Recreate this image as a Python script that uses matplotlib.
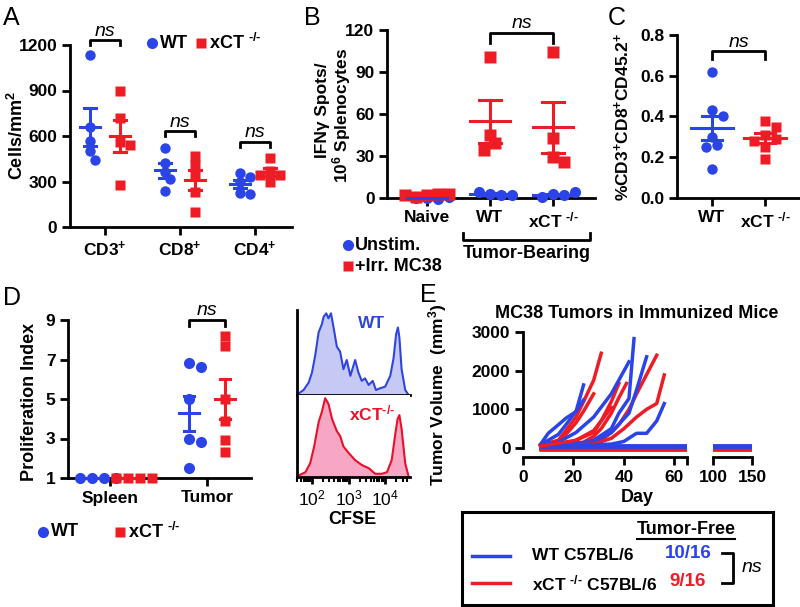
import numpy as np
import matplotlib
matplotlib.use("Agg")
import matplotlib.pyplot as plt
from matplotlib.lines import Line2D

plt.rcParams["font.family"] = ["Liberation Sans", "DejaVu Sans"]
plt.rcParams["font.weight"] = "bold"
plt.rcParams["mathtext.default"] = "regular"
plt.rcParams["axes.linewidth"] = 2.0

BLUE = "#2b44e8"
RED = "#ee1c25"
KO = "xCT $^{\u2010/\u2010}$"

# ---- A: infiltrating cells
a_groups = ["CD3$^{+}$", "CD8$^{+}$", "CD4$^{+}$"]
a_wt = [[1135, 660, 565, 500, 445], [520, 425, 365, 315, 240], [355, 330, 295, 225, 220]]
a_ko = [[900, 720, 560, 540, 280], [470, 410, 340, 230, 100], [455, 370, 345, 340, 300]]
a_ns_y = [1230, 630, 560]

# ---- B: ELISpot
b_groups = ["Naive", "WT", KO]
b_unstim = [[0, -0.5, 0, 0.5], [3, 2, 4, 2], [3, 2, 1, 4]]
b_irr = [[2, 3, 1, 3, 2], [101, 45, 39, 34], [104, 43, 29, 26]]

# ---- C
c_groups = ["WT", KO]
c_wt = [0.62, 0.43, 0.40, 0.30, 0.26, 0.25, 0.14]
c_ko = [0.38, 0.35, 0.31, 0.29, 0.28, 0.25, 0.19]

# ---- D
d_groups = ["Spleen", "Tumor"]
d_wt = [[1, 1, 1, 1], [6.8, 6.6, 5.0, 3.0, 2.8, 1.5]]
d_ko = [[1, 1, 1, 1], [8.2, 7.7, 5.0, 3.9, 2.9, 2.3]]

# ---- D: CFSE histograms (log10 CFSE, normalised count)
cfse_wt_log = [1.64, 1.77, 1.91, 2.0, 2.09, 2.18, 2.27, 2.32, 2.39, 2.45, 2.52, 2.59, 2.68,
               2.77, 2.86, 2.95, 3.05, 3.18, 3.27, 3.36, 3.45, 3.55, 3.66, 3.75, 3.86, 4.0,
               4.14, 4.23, 4.3, 4.35, 4.39, 4.45, 4.55, 4.64]
cfse_wt_h = [0.02, 0.06, 0.15, 0.27, 0.48, 0.75, 0.85, 0.94, 0.98, 0.92, 0.98, 0.81, 0.58,
             0.52, 0.31, 0.42, 0.23, 0.42, 0.27, 0.17, 0.20, 0.12, 0.17, 0.06, 0.08, 0.10,
             0.23, 0.44, 0.73, 0.81, 0.69, 0.31, 0.06, 0.0]
cfse_ko_log = [1.64, 1.82, 1.95, 2.06, 2.18, 2.27, 2.36, 2.45, 2.55, 2.68, 2.77, 2.86, 3.0,
               3.18, 3.36, 3.55, 3.73, 3.91, 4.05, 4.18, 4.27, 4.34, 4.39, 4.45, 4.55, 4.64]
cfse_ko_h = [0.02, 0.06, 0.17, 0.38, 0.68, 0.81, 0.98, 0.91, 0.72, 0.57, 0.51, 0.38, 0.30,
             0.21, 0.15, 0.11, 0.04, 0.04, 0.06, 0.21, 0.51, 0.72, 0.77, 0.60, 0.17, 0.01]

# ---- E: tumour growth
e_wt_days = [[7, 10, 14, 17, 21, 24], [7, 10, 14, 17, 21, 24], [7, 14, 21, 28, 35, 42],
             [7, 21, 28, 35, 38, 42, 44], [7, 28, 35, 42, 45, 49], [7, 35, 40, 45, 49, 53, 56]]
e_wt_vol = [[100, 380, 600, 770, 940, 1630], [80, 200, 350, 600, 950, 1240],
            [60, 150, 400, 800, 1400, 2230], [50, 100, 200, 500, 900, 1280, 2830],
            [50, 150, 400, 900, 1500, 2360], [50, 100, 170, 380, 380, 700, 1150]]
e_ko_days = [[7, 14, 17, 21, 24, 28, 31], [7, 14, 17, 21, 24, 28], [7, 17, 21, 28, 31, 35, 38],
             [7, 17, 24, 28, 31, 35, 38, 41], [7, 24, 31, 35, 38, 42, 45, 49, 53],
             [7, 28, 35, 40, 45, 49, 53, 56], [7, 21, 28, 31, 35]]
e_ko_vol = [[80, 200, 450, 800, 1200, 1750, 2450], [60, 150, 350, 650, 950, 1400],
            [50, 100, 200, 400, 700, 1200, 1670], [50, 100, 150, 300, 500, 900, 1300, 1670],
            [50, 100, 200, 400, 600, 1000, 1400, 1900, 2400],
            [50, 100, 250, 500, 800, 1000, 1150, 1890], [50, 200, 450, 700, 1050]]
e_free_days1 = [7, 66]
e_free_days2 = [100, 148]
e_wt_free, e_ko_free = 10, 9
e_wt_free_vol, e_ko_free_vol = 45, -25

fig = plt.figure(figsize=(8, 6.07), dpi=100)
W, H = 800, 607


def px_axes(x0, y0, x1, y1):
    return fig.add_axes([x0 / W, 1 - y1 / H, (x1 - x0) / W, (y1 - y0) / H])


def ftext(x, y, s, **kw):
    kw.setdefault("fontsize", 13)
    fig.text(x / W, 1 - y / H, s, **kw)


def fmark(x, y, marker, color, ms):
    fig.add_artist(Line2D([x / W], [1 - y / H], marker=marker, color=color, ms=ms, mec="none", ls="none"))


def fline(xs, ys, color="k", lw=2):
    fig.add_artist(Line2D([x / W for x in xs], [1 - y / H for y in ys], color=color, lw=lw))


def style(ax, fs=12.5):
    ax.spines[["top", "right"]].set_visible(False)
    ax.tick_params(direction="out", length=6, width=2, labelsize=fs, pad=3)


def swarm(vals, ppx, ppy, mind, step):
    placed, offs = [], []
    for v in vals:
        y = v * ppy
        for k in [0, 1, -1, 2, -2, 3, -3, 4, -4]:
            dx = k * step
            if all((dx - px) ** 2 + (y - py) ** 2 >= mind ** 2 for px, py in placed):
                break
        placed.append((dx, y))
        offs.append(dx / ppx)
    return np.array(offs)


def mean_sem(ax, x, vals, color, hw, cw, lw=2.2):
    m = np.mean(vals)
    s = np.std(vals, ddof=1) / np.sqrt(len(vals))
    kw = dict(color=color, lw=lw, zorder=5, clip_on=False)
    ax.plot([x - hw, x + hw], [m, m], **kw)
    ax.plot([x, x], [m - s, m + s], **kw)
    ax.plot([x - cw, x + cw], [m + s, m + s], **kw)
    ax.plot([x - cw, x + cw], [m - s, m - s], **kw)


def bracket(ax, x0, x1, y, drop):
    ax.plot([x0, x0, x1, x1], [y - drop, y, y, y - drop], color="k", lw=2, clip_on=False)
    ax.annotate("ns", ((x0 + x1) / 2, y), xytext=(0, 0.5), textcoords="offset points",
                ha="center", va="bottom", style="italic", weight="normal", fontsize=14,
                annotation_clip=False)


def scatter(ax, x, vals, col, mk, ms, ppx, ppy, mind, step):
    off = swarm(vals, ppx, ppy, mind, step)
    ax.plot(x + off, vals, ls="none", marker=mk, color=col, ms=ms, mec="none",
            clip_on=False, zorder=3)


# ================= A
axA = px_axes(70, 45, 292, 227)
style(axA)
axA.set_xlim(-0.467, 2.49)
axA.set_ylim(0, 1200)
axA.set_yticks(range(0, 1201, 300))
axA.set_xticks(range(3))
axA.set_xticklabels(a_groups)
ppx, ppy = 75, 182 / 1200
for i in range(3):
    scatter(axA, i - 0.2, a_wt[i], BLUE, "o", 7.5, ppx, ppy, 9, 5)
    scatter(axA, i + 0.2, a_ko[i], RED, "s", 7, ppx, ppy, 9, 5)
    mean_sem(axA, i - 0.2, a_wt[i], BLUE, 10 / ppx, 6 / ppx)
    mean_sem(axA, i + 0.2, a_ko[i], RED, 10 / ppx, 6 / ppx)
    bracket(axA, i - 0.2, i + 0.2, a_ns_y[i], 5 / ppy)
ftext(17, 136, "Cells/mm$^{2}$", rotation=90, ha="center", va="center")
fmark(152, 43, "o", BLUE, 8)
ftext(160, 43, "WT", va="center")
fmark(201, 43, "s", RED, 7.5)
ftext(209, 43, KO, va="center")
ftext(3, 6, "A", fontsize=18, weight="normal", va="top")

# ================= B
axB = px_axes(387, 30, 595, 198)
style(axB)
axB.set_xlim(-0.635, 2.667)
axB.set_ylim(0, 120)
axB.set_yticks(range(0, 121, 30))
axB.set_xticks(range(3))
axB.set_xticklabels(b_groups)
ppx, ppy = 63, 168 / 120
for i in range(3):
    scatter(axB, i, b_unstim[i], BLUE, "o", 8, ppx, ppy, 10, 5.5)
    mean_sem(axB, i, b_unstim[i], BLUE, 20 / ppx, 11 / ppx)
for i in range(3):
    scatter(axB, i, b_irr[i], RED, "s", 8, ppx, ppy, 10, 5.5)
    mean_sem(axB, i, b_irr[i], RED, 20 / ppx, 11 / ppx)
bracket(axB, 1, 2, 118, 7)
ftext(323, 110, "IFNγ Spots/", rotation=90, ha="center", va="center", fontsize=12.5)
ftext(342, 115, "10$^{6}$ Splenocytes", rotation=90, ha="center", va="center", fontsize=12.5)
fline([463, 463, 590, 590], [233, 240, 240, 233])
ftext(527, 254, "Tumor-Bearing", ha="center", va="center")
fmark(348, 245, "o", BLUE, 8)
ftext(355, 245, "Unstim.", va="center")
fmark(348, 266, "s", RED, 7.5)
ftext(355, 266, "+Irr. MC38", va="center")
ftext(304, 6, "B", fontsize=18, weight="normal", va="top")

# ================= C
axC = px_axes(677, 35, 800, 198)
style(axC)
axC.set_xlim(-0.66, 1.66)
axC.set_ylim(0, 0.8)
axC.set_yticks([0, 0.2, 0.4, 0.6, 0.8])
axC.set_yticklabels(["0.0", "0.2", "0.4", "0.6", "0.8"])
axC.set_xticks(range(2))
axC.set_xticklabels(c_groups)
ppx, ppy = 53, 163 / 0.8
scatter(axC, 0, c_wt, BLUE, "o", 7.5, ppx, ppy, 9, 5.5)
scatter(axC, 1, c_ko, RED, "s", 7, ppx, ppy, 9, 5.5)
mean_sem(axC, 0, c_wt, BLUE, 21 / ppx, 10 / ppx)
mean_sem(axC, 1, c_ko, RED, 21 / ppx, 10 / ppx)
bracket(axC, 0, 1, 0.72, 0.04)
ftext(622, 117, "%CD3$^{+}$CD8$^{+}$CD45.2$^{+}$", rotation=90, ha="center", va="center", fontsize=12.5)
ftext(608, 6, "C", fontsize=18, weight="normal", va="top")

# ================= D
axD = px_axes(68, 320, 251, 478)
style(axD)
axD.set_xlim(-0.433, 1.454)
axD.set_ylim(1, 9)
axD.set_yticks([1, 3, 5, 7, 9])
axD.set_xticks(range(2))
axD.set_xticklabels(d_groups)
ppx, ppy = 97, 158 / 8
for i in range(2):
    scatter(axD, i - 0.19, d_wt[i], BLUE, "o", 8, ppx, ppy, 8, 6)
    scatter(axD, i + 0.19, d_ko[i], RED, "s", 7.5, ppx, ppy, 8, 6)
    mean_sem(axD, i - 0.19, d_wt[i], BLUE, 10 / ppx, 5 / ppx)
    mean_sem(axD, i + 0.19, d_ko[i], RED, 10 / ppx, 5 / ppx)
bracket(axD, 1 - 0.19, 1 + 0.19, 9, 0.3)
ftext(30, 402, "Proliferation Index", rotation=90, ha="center", va="center")
fmark(43, 532, "o", BLUE, 8)
ftext(51, 532, "WT", va="center")
fmark(120, 532, "s", RED, 7.5)
ftext(128, 532, KO, va="center")
ftext(3, 286, "D", fontsize=18, weight="normal", va="top")

# CFSE histograms
axH1 = px_axes(297, 310, 410, 395)
axH2 = px_axes(297, 395, 410, 477)
for ax, lg, h, lc, fc, lab, ly in [(axH1, cfse_wt_log, cfse_wt_h, "#2f45e0", "#c6c9f3", "WT", 323),
                                   (axH2, cfse_ko_log, cfse_ko_h, "#e8102a", "#f7a6c4",
                                    "xCT$^{\u2010/\u2010}$", 413)]:
    x = 10 ** np.array(lg)
    ax.fill_between(x, 0, h, color=fc, lw=0)
    ax.plot(x, h, color=lc, lw=1.5)
    ax.set_xscale("log")
    ax.set_xlim(10 ** 1.59, 10 ** 4.68)
    ax.set_ylim(0, 1.02)
    ax.spines[["top", "right"]].set_visible(False)
    ax.spines[["left", "bottom"]].set_linewidth(2)
    ax.set_yticks([])
    ftext(372, ly, lab, color=lc, ha="center", va="center", fontsize=12.5)
axH1.set_xticks([])
axH1.minorticks_off()
axH1.tick_params(axis="x", length=0)
axH2.set_xticks([1e2, 1e3, 1e4])
axH2.set_xticklabels(["10$^{2}$", "10$^{3}$", "10$^{4}$"], fontweight="normal", fontsize=12.5)
axH2.tick_params(axis="x", which="major", length=5, width=2, pad=3)
axH2.tick_params(axis="x", which="minor", length=3.5, width=1.5)
ftext(352, 519, "CFSE", ha="center", va="center")

# ================= E
axE1 = px_axes(523, 332, 687, 457)
axE2 = px_axes(713, 332, 752, 457)
for ax in (axE1, axE2):
    style(ax)
    ax.set_ylim(-233, 3000)
axE1.set_xlim(0, 65)
axE2.set_xlim(100, 150)
axE1.spines["left"].set_bounds(0, 3000)
axE1.set_yticks([0, 1000, 2000, 3000])
axE1.set_xticks([0, 20, 40, 60, 65])
axE1.set_xticklabels(["0", "20", "40", "60", ""])
axE2.spines["left"].set_visible(False)
axE2.set_yticks([])
axE2.set_xticks([100, 150])
for k in range(e_ko_free):
    axE1.plot(e_free_days1, [e_ko_free_vol] * 2, color=RED, lw=2.5)
    axE2.plot(e_free_days2, [e_ko_free_vol] * 2, color=RED, lw=2.5)
for k in range(e_wt_free):
    axE1.plot(e_free_days1, [e_wt_free_vol] * 2, color=BLUE, lw=2.5)
    axE2.plot(e_free_days2, [e_wt_free_vol] * 2, color=BLUE, lw=2.5)
for i in range(max(len(e_wt_days), len(e_ko_days))):
    if i < len(e_ko_days):
        axE1.plot(e_ko_days[i], e_ko_vol[i], color=RED, lw=2.5)
    if i < len(e_wt_days):
        axE1.plot(e_wt_days[i], e_wt_vol[i], color=BLUE, lw=2.5)
ftext(637, 313, "MC38 Tumors in Immunized Mice", ha="center", va="center")
ftext(438, 395, "Tumor Volume  (mm$^{3}$)", rotation=90, ha="center", va="center", fontsize=12.5)
ftext(637, 498, "Day", ha="center", va="center")
ftext(420, 283, "E", fontsize=18, weight="normal", va="top")

# legend box
axL = px_axes(462, 512, 773, 605)
axL.set_xlim(0, 311)
axL.set_ylim(93, 0)
axL.set_xticks([])
axL.set_yticks([])
for s in axL.spines.values():
    s.set_linewidth(2.2)
axL.text(224, 18, "Tumor-Free", ha="center", va="center", fontsize=13)
axL.plot([175, 273], [27, 27], color="k", lw=1.5)
axL.plot([10, 48], [44, 44], color=BLUE, lw=2.5)
axL.plot([10, 48], [71, 71], color=RED, lw=2.5)
axL.text(70, 44, "WT C57BL/6", va="center", fontsize=12.5)
axL.text(70, 71, "xCT $^{\u2010/\u2010}$ C57BL/6", va="center", fontsize=12.5)
axL.text(203, 42, "10/16", color=BLUE, va="center", fontsize=13.5)
axL.text(207, 70, "9/16", color=RED, va="center", fontsize=13.5)
axL.plot([260, 271, 271, 260], [41, 41, 71, 71], color="k", lw=2)
axL.text(280, 56, "ns", style="italic", weight="normal", va="center", fontsize=14)

fig.savefig("out.png", dpi=100)
